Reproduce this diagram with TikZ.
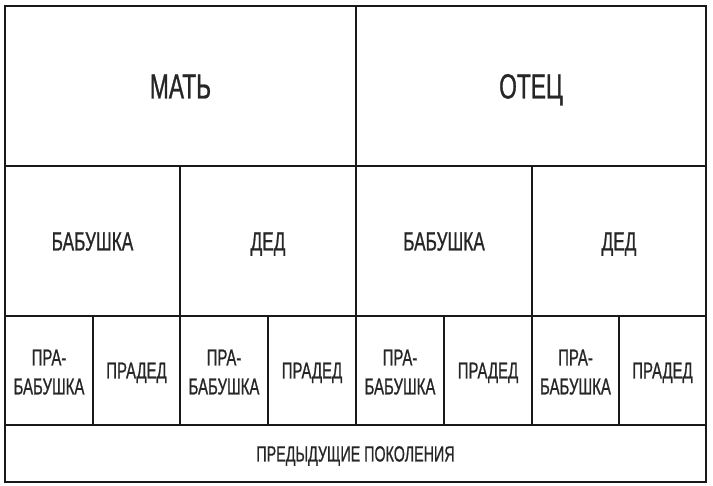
\documentclass[tikz,border=0pt]{standalone}
\usepackage{fontspec}
\setmainfont[FakeStretch=0.65,FakeBold=0.8]{Liberation Sans}
\newcommand{\fbig}{\fontsize{35}{35}\selectfont}
\newcommand{\fmid}{\fontsize{26.5}{26.5}\selectfont}
\newcommand{\fsmall}{\fontsize{23}{29}\selectfont}
\newcommand{\fbottom}{\fontsize{22}{22}\selectfont}
\begin{document}
\begin{tikzpicture}[x=1pt,y=-1pt,
  grid/.style={line width=1.6pt, black!90},
  cell/.style={inner sep=0pt, outer sep=0pt, align=center, text=black!85, text depth=0pt},
  r1/.style={cell, minimum height=160pt, font=\fbig, text height=25pt},
  r2/.style={cell, minimum height=150pt, font=\fmid, text height=19pt},
  r3/.style={cell, minimum height=109pt, font=\fsmall},
  r4/.style={cell, minimum height=57pt, font=\fbottom, text height=16pt}]
\useasboundingbox (0,0) rectangle (713,486);
% row 1
\node[r1, minimum width=351pt] (mat) at (180.5,86) {МАТЬ};
\node[r1, minimum width=350pt] (otec) at (531,86) {ОТЕЦ};
% row 2
\node[r2, minimum width=175pt] (bab1) at (92.5,241) {БАБУШКА};
\node[r2, minimum width=176pt] (ded1) at (268,241) {ДЕД};
\node[r2, minimum width=176pt] (bab2) at (444,241) {БАБУШКА};
\node[r2, minimum width=174pt] (ded2) at (619,241) {ДЕД};
% row 3
\node[r3, minimum width=88pt] (pb1) at (49,372) {ПРА-\\БАБУШКА};
\node[r3, minimum width=87pt, text height=16pt] (pd1) at (136.5,370.5) {ПРАДЕД};
\node[r3, minimum width=88pt] (pb2) at (224,372) {ПРА-\\БАБУШКА};
\node[r3, minimum width=88pt, text height=16pt] (pd2) at (312,370.5) {ПРАДЕД};
\node[r3, minimum width=88pt] (pb3) at (400,372) {ПРА-\\БАБУШКА};
\node[r3, minimum width=88pt, text height=16pt] (pd3) at (488,370.5) {ПРАДЕД};
\node[r3, minimum width=87pt] (pb4) at (575.5,372) {ПРА-\\БАБУШКА};
\node[r3, minimum width=87pt, text height=16pt] (pd4) at (662.5,370.5) {ПРАДЕД};
% row 4
\node[r4, minimum width=701pt] (prev) at (355.5,453.5) {ПРЕДЫДУЩИЕ ПОКОЛЕНИЯ};
% grid
\draw[grid] (mat.north west) rectangle (prev.south east);
\draw[grid] (mat.south west) -- (otec.south east);
\draw[grid] (bab1.south west) -- (ded2.south east);
\draw[grid] (prev.north west) -- (prev.north east);
\draw[grid] (mat.north east) -- (mat.north east |- pd2.south east);
\draw[grid] (bab1.north east) -- (bab1.north east |- pd1.south east);
\draw[grid] (bab2.north east) -- (bab2.north east |- pb4.south west);
\draw[grid] (pb1.north east |- pd1.north) -- (pb1.north east |- pd1.south);
\draw[grid] (pb2.north east |- pd2.north) -- (pb2.north east |- pd2.south);
\draw[grid] (pb3.north east |- pd3.north) -- (pb3.north east |- pd3.south);
\draw[grid] (pb4.north east |- pd4.north) -- (pb4.north east |- pd4.south);
\end{tikzpicture}
\end{document}
